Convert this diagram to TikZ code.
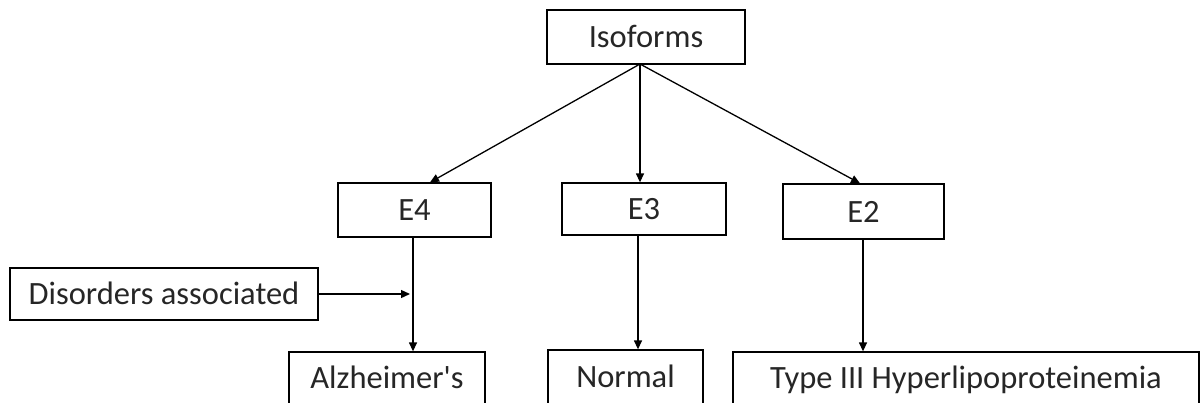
\documentclass[tikz,border=0pt]{standalone}
\usepackage{fontspec}
\setmainfont{Carlito}
\usetikzlibrary{arrows.meta}
\begin{document}
\begin{tikzpicture}[x=1pt,y=-1pt,
  box/.style={draw, line width=1.3pt, inner sep=0pt, anchor=center,
    text height=21pt, text depth=0pt, text=black!85,
    font=\fontsize{32.5}{39}\selectfont},
  conn/.style={line width=1.3pt, -{Triangle[length=9pt,width=8pt]}}]
\useasboundingbox (0,0) rectangle (1200,402);
\clip (0,0) rectangle (1200,402);
\fill[white] (0,0) rectangle (1200,402);
% nodes
\node[box, minimum width=198pt, minimum height=54pt] (iso) at (646,37) {Isoforms};
\node[box, minimum width=153pt, minimum height=54pt] (e4) at (414.5,210) {E4};
\node[box, minimum width=164pt, minimum height=52pt] (e3) at (644,209) {E3};
\node[box, minimum width=161pt, minimum height=55pt] (e2) at (863.5,211.5) {E2};
\node[box, minimum width=308pt, minimum height=52pt] (dis) at (164,294) {Disorders associated};
\node[box, minimum width=196pt, minimum height=52pt] (alz) at (387,378) {Alzheimer\textquotesingle s};
\node[box, minimum width=155pt, minimum height=54pt] (nor) at (625.5,377) {Normal};
\node[box, minimum width=466pt, minimum height=52pt] (hyp) at (966,378) {Type III Hyperlipoproteinemia};
% connectors
\coordinate (apex) at (640,64);
\coordinate (djoin) at (410,294);
\draw[conn] (apex) -- ([xshift=15.5pt]e4.north);
\draw[conn] (apex) -- (apex |- e3.north);
\draw[conn] (apex) -- ([xshift=-3.5pt]e2.north);
\draw[conn] ([xshift=-1.5pt]e4.south) -- ([xshift=-1.5pt]e4.south |- alz.north);
\draw[conn] ([xshift=-6pt]e3.south) -- ([xshift=-6pt]e3.south |- nor.north);
\draw[conn] ([xshift=-0.5pt]e2.south) -- ([xshift=-0.5pt]e2.south |- hyp.north);
\draw[conn] (dis.east) -- (djoin);
\end{tikzpicture}
\end{document}
